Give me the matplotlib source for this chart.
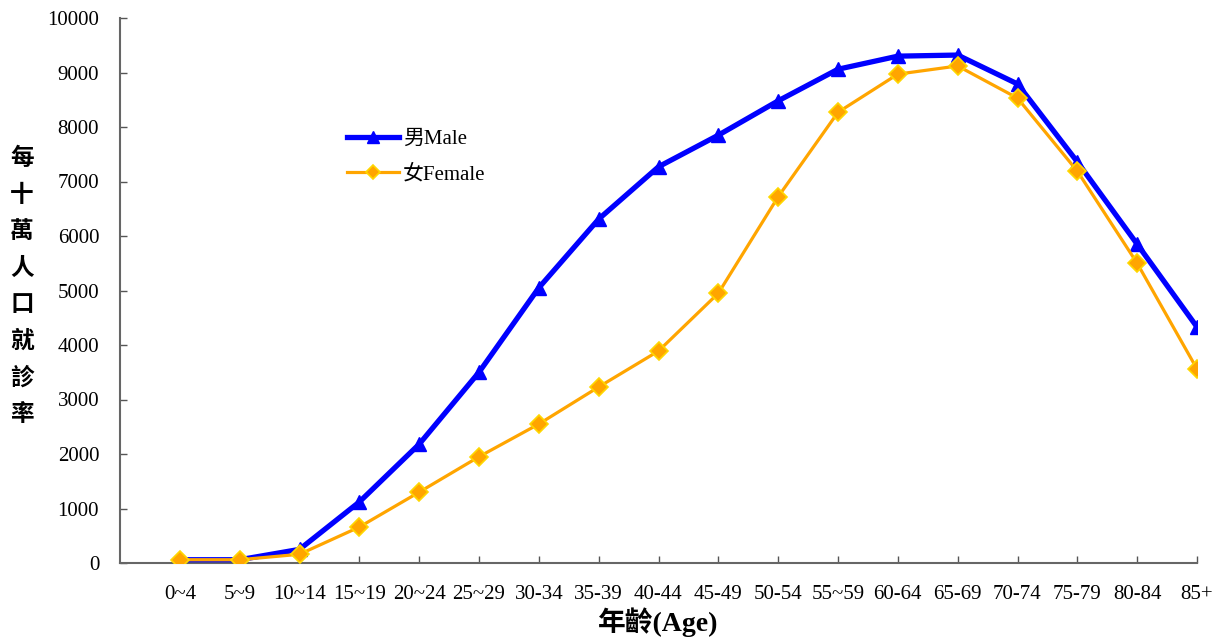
import matplotlib.pyplot as plt

plt.rcParams['font.family'] = ['Liberation Serif', 'Noto Sans CJK TC']

ages = ['0~4', '5~9', '10~14', '15~19', '20~24', '25~29', '30-34', '35-39',
        '40-44', '45-49', '50-54', '55~59', '60-64', '65-69', '70-74',
        '75-79', '80-84', '85+']
male = [60, 60, 250, 1120, 2180, 3500, 5050, 6310, 7270, 7850, 8480, 9060,
        9300, 9320, 8790, 7360, 5850, 4330]
female = [60, 60, 160, 660, 1300, 1950, 2550, 3230, 3890, 4950, 6720, 8270,
          8970, 9120, 8530, 7190, 5500, 3560]

fig = plt.figure(figsize=(12.23, 6.39), dpi=100)
ax = fig.add_axes([120 / 1223, 1 - 563 / 639, (1197 - 120) / 1223, (563 - 18) / 639])

x = list(range(len(ages)))
ax.plot(x, male, color='#0000FF', lw=3.8, marker='^', markersize=10,
        label='男Male', zorder=3)
ax.plot(x, female, color='#FFA500', lw=2.3, marker='D', markersize=9,
        markeredgecolor='#FFD700', markeredgewidth=1.2, label='女Female', zorder=4)

ax.set_xlim(-1, len(ages) - 1)
ax.set_ylim(0, 10000)
ax.set_yticks(range(0, 10001, 1000))
ax.set_xticks(x)
ax.set_xticklabels(ages)
ax.tick_params(axis='both', direction='in', length=5, width=1, color='#555555',
               labelsize=15)
ax.tick_params(axis='x', pad=16)
ax.tick_params(axis='y', pad=15)

for s in ['top', 'right']:
    ax.spines[s].set_visible(False)
for s in ['left', 'bottom']:
    ax.spines[s].set_color('#666666')
    ax.spines[s].set_linewidth(1.5)

ax.set_xlabel('年齡(Age)', fontsize=20, fontweight='bold', labelpad=2)
fig.text(22 / 1223, 1 - 286 / 639, '\n'.join('每十萬人口就診率'), fontsize=17,
         fontweight='bold', ha='center', va='center', linespacing=1.66,
         family=['Noto Sans CJK TC'])

ax.legend(loc='upper left', bbox_to_anchor=(328 / 1223, 1 - 111 / 639),
          bbox_transform=fig.transFigure, frameon=False, fontsize=15,
          handlelength=2.5, handletextpad=0.2, labelspacing=0.75,
          markerscale=0.8)

fig.savefig('out.png', dpi=100)
